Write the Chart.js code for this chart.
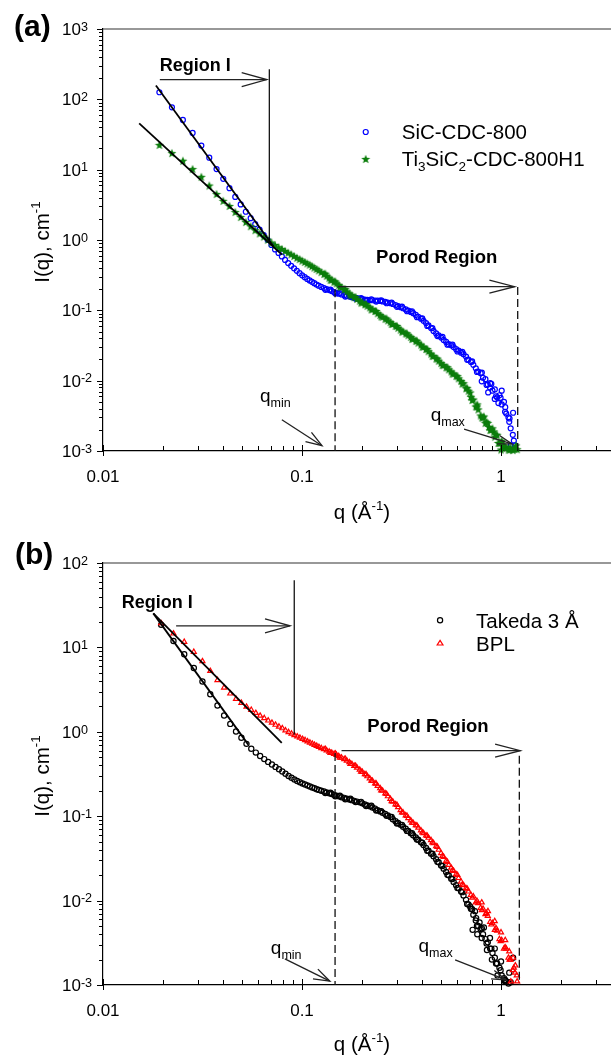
<!DOCTYPE html>
<html>
<head>
<meta charset="utf-8">
<script src="https://cdn.jsdelivr.net/npm/chart.js@4.4.1/dist/chart.umd.min.js"></script>
<style>
  html, body { margin: 0; padding: 0; background: #fff; }
  #wrap { position: relative; width: 611px; height: 1057px; overflow: hidden; background: #fff; }
  canvas { position: absolute; left: 0; }
  #chartA { top: 0; }
  #chartB { top: 530px; }
</style>
</head>
<body>
<div id="wrap">
  <canvas id="chartA" width="611" height="530"></canvas>
  <canvas id="chartB" width="611" height="527"></canvas>
</div>
<script>
const FONT = '"Liberation Sans", Arial, Helvetica, sans-serif';
const BLUE = "#0000ff";
const GREEN = "#0b7d0b";
const RED = "#ff0000";
const BLACK = "#000000";

// ---- panel (a): q grid and intensities ----
const qA = [
  0.0192, 0.0222, 0.0252, 0.0282, 0.0312, 0.0342, 0.0372, 0.0402, 0.0432, 0.0462,
  0.0492, 0.0522, 0.0552, 0.0582, 0.0612, 0.0642, 0.0672, 0.0702, 0.0732, 0.0762,
  0.0792, 0.0822, 0.0852, 0.0882, 0.0912, 0.0942, 0.0972, 0.1002, 0.1032, 0.1062,
  0.1092, 0.1122, 0.1152, 0.1182, 0.1212,
  0.125, 0.129, 0.133, 0.137, 0.141, 0.145, 0.149, 0.153, 0.158, 0.163,
  0.168, 0.173, 0.178, 0.183, 0.189, 0.195, 0.201, 0.207, 0.213, 0.219,
  0.226, 0.233, 0.240, 0.247, 0.254, 0.262, 0.270, 0.278, 0.286, 0.295,
  0.304, 0.313, 0.322, 0.332, 0.342, 0.352, 0.362, 0.373, 0.384, 0.396,
  0.408, 0.420, 0.432, 0.445, 0.458, 0.472, 0.486, 0.500, 0.515, 0.530,
  0.546, 0.562, 0.578, 0.595, 0.612, 0.630, 0.648, 0.667, 0.686, 0.706,
  0.726, 0.747, 0.768, 0.790, 0.812, 0.835, 0.858, 0.882, 0.906, 0.931,
  0.956, 0.982, 1.008, 1.035, 1.062, 1.090, 1.118, 1.146, 1.175, 1.205
];
const sicCdcI = [
  126, 77, 51, 33.3, 22, 14.8, 10.2, 7.4, 5.45, 4.1,
  3.2, 2.52, 2.04, 1.68, 1.40, 1.17, 1.00, 0.85, 0.735, 0.655,
  0.585, 0.52, 0.47, 0.43, 0.395, 0.365, 0.338, 0.315, 0.296, 0.28,
  0.266, 0.254, 0.243, 0.233, 0.224,
  0.215, 0.207, 0.200, 0.194, 0.188, 0.182, 0.177, 0.172, 0.168, 0.164,
  0.160, 0.157, 0.154, 0.151, 0.149, 0.146, 0.144, 0.142, 0.141, 0.140,
  0.139, 0.138, 0.137, 0.136, 0.134, 0.132, 0.129, 0.126, 0.123, 0.119,
  0.115, 0.111, 0.107, 0.103, 0.099, 0.095, 0.091, 0.086, 0.081, 0.076,
  0.071, 0.066, 0.061, 0.056, 0.051, 0.047, 0.044, 0.041, 0.038, 0.0355,
  0.033, 0.0318, 0.030, 0.028, 0.0268, 0.025, 0.0238, 0.022, 0.020, 0.0185,
  0.0168, 0.0150, 0.0135, 0.0128, 0.0110, 0.0105, 0.0088, 0.0092, 0.0072, 0.0075,
  0.0058, 0.0062, 0.0046, 0.0050, 0.0034, 0.0030, 0.0021, 0.0017, 0.0012, null
];
const tiCdcI = [
  22.5, 17.2, 13.4, 10.2, 7.9, 5.95, 4.5, 3.6, 3.05, 2.5,
  2.12, 1.80, 1.57, 1.38, 1.24, 1.12, 1.01, 0.92, 0.85, 0.79,
  0.745, 0.70, 0.66, 0.625, 0.592, 0.56, 0.535, 0.51, 0.487, 0.466,
  0.446, 0.425, 0.405, 0.387, 0.37,
  0.35, 0.33, 0.31, 0.29, 0.272, 0.256, 0.242, 0.229, 0.214, 0.199,
  0.186, 0.174, 0.163, 0.154, 0.145, 0.137, 0.129, 0.122, 0.116, 0.110,
  0.104, 0.098, 0.091, 0.086, 0.081, 0.076, 0.072, 0.068, 0.064, 0.060,
  0.0565, 0.053, 0.050, 0.047, 0.0443, 0.0418, 0.0394, 0.037, 0.0347, 0.0325,
  0.0303, 0.0282, 0.0262, 0.0242, 0.0224, 0.0207, 0.0192, 0.0178, 0.0166, 0.0155,
  0.0145, 0.0135, 0.0126, 0.0117, 0.0108, 0.0099, 0.0092, 0.0078, 0.0072, 0.0059,
  0.0054, 0.0043, 0.0039, 0.0032, 0.0030, 0.0025, 0.0025, 0.0020, 0.0021, 0.0016,
  0.0017, 0.0013, 0.0014, 0.00115, 0.0011, 0.00105, 0.00112, 0.00103, 0.00108, 0.00106
];
// in-between readings across the dense part of the curves (both panels share this q list)
const qMid = [
  0.131, 0.139, 0.147, 0.155, 0.165, 0.175, 0.186, 0.198, 0.210, 0.223,
  0.236, 0.250, 0.266, 0.282, 0.300, 0.318, 0.337, 0.357, 0.378, 0.402,
  0.426, 0.452, 0.479, 0.508, 0.538, 0.570, 0.604, 0.639, 0.676, 0.716,
  0.757, 0.801, 0.846, 0.894, 0.944, 0.995, 1.048, 1.104, 1.16
];
const sicMidI = [
  0.196, 0.197, 0.174, 0.176, 0.157, 0.160, 0.146, 0.149, 0.137, 0.143,
  0.133, 0.139, 0.126, 0.129, 0.112, 0.113, 0.097, 0.097, 0.080, 0.077,
  0.060, 0.056, 0.043, 0.042, 0.0325, 0.0325, 0.026, 0.0257, 0.0198, 0.0188,
  0.0133, 0.0130, 0.0087, 0.0090, 0.0060, 0.0057, 0.0036, 0.0029, 0.0014
];
const tiMidI = [
  0.332, 0.272, 0.258, 0.216, 0.200, 0.165, 0.155, 0.129, 0.123, 0.103,
  0.098, 0.082, 0.0765, 0.064, 0.060, 0.050, 0.047, 0.0394, 0.037, 0.0304,
  0.0281, 0.0226, 0.0206, 0.0167, 0.0155, 0.0126, 0.0116, 0.0091, 0.0079, 0.0053,
  0.0043, 0.0030, 0.0026, 0.0020, 0.0017, 0.0013, 0.00115, 0.00104, 0.00107
];
const sicNoiseQ = [0.80, 0.862, 0.93, 1.008, 1.05, 1.10, 1.15, 1.12, 0.97, 0.88];
const sicNoiseI = [0.0098, 0.0068, 0.0055, 0.0072, 0.0042, 0.0026, 0.0035, 0.0012, 0.0048, 0.0080];
const tiNoiseQ = [0.70, 0.76, 0.82, 0.87, 0.92, 0.97, 1.0, 1.03, 1.1, 1.19];
const tiNoiseI = [0.0068, 0.0046, 0.0031, 0.0022, 0.0019, 0.0013, 0.00105, 0.0012, 0.0011, 0.0012];

// ---- panel (b): q grid and intensities ----
const qB = [
  0.0196, 0.0226, 0.0256, 0.0286, 0.0316, 0.0346, 0.0376, 0.0406, 0.0436, 0.0466,
  0.0496, 0.0526, 0.0556, 0.0586, 0.0616, 0.0646, 0.0676, 0.0706, 0.0736, 0.0766,
  0.0796, 0.0826, 0.0856, 0.0886, 0.0916, 0.0946, 0.0976, 0.1006, 0.1036, 0.1066,
  0.1096, 0.1126, 0.1156, 0.1186, 0.1216,
  0.125, 0.129, 0.133, 0.137, 0.141, 0.145, 0.149, 0.153, 0.158, 0.163,
  0.168, 0.173, 0.178, 0.183, 0.189, 0.195, 0.201, 0.207, 0.213, 0.219,
  0.226, 0.233, 0.240, 0.247, 0.254, 0.262, 0.270, 0.278, 0.286, 0.295,
  0.304, 0.313, 0.322, 0.332, 0.342, 0.352, 0.362, 0.373, 0.384, 0.396,
  0.408, 0.420, 0.432, 0.445, 0.458, 0.472, 0.486, 0.500, 0.515, 0.530,
  0.546, 0.562, 0.578, 0.595, 0.612, 0.630, 0.648, 0.667, 0.686, 0.706,
  0.726, 0.747, 0.768, 0.790, 0.812, 0.835, 0.858, 0.882, 0.906, 0.931,
  0.956, 0.982, 1.008, 1.035, 1.062, 1.090, 1.118, 1.146, 1.175, 1.205
];
const takedaI = [
  18.5, 11.9, 8.3, 5.7, 3.95, 2.78, 2.05, 1.56, 1.24, 1.01,
  0.85, 0.72, 0.63, 0.567, 0.516, 0.475, 0.44, 0.41, 0.384, 0.36,
  0.338, 0.318, 0.30, 0.285, 0.272, 0.261, 0.252, 0.244, 0.237, 0.231,
  0.225, 0.219, 0.214, 0.209, 0.205,
  0.200, 0.196, 0.191, 0.187, 0.183, 0.179, 0.175, 0.172, 0.168, 0.165,
  0.161, 0.158, 0.155, 0.152, 0.149, 0.146, 0.142, 0.138, 0.134, 0.131,
  0.127, 0.123, 0.118, 0.114, 0.110, 0.106, 0.102, 0.098, 0.092, 0.087,
  0.083, 0.079, 0.075, 0.071, 0.067, 0.063, 0.0595, 0.056, 0.0525, 0.049,
  0.0455, 0.042, 0.039, 0.036, 0.0335, 0.031, 0.0285, 0.026, 0.0238, 0.0218,
  0.020, 0.0182, 0.0166, 0.0152, 0.0141, 0.0128, 0.0115, 0.0102, 0.0090, 0.0080,
  0.0068, 0.0058, 0.0050, 0.0046, 0.0040, 0.0035, 0.0032, 0.0027, 0.0024, 0.0021,
  0.0018, 0.0016, 0.0013, 0.0012, 0.0011, 0.00104, 0.00108, null, null, null
];
const bplI = [
  19.3, 14.6, 11.6, 8.85, 6.85, 5.25, 4.1, 3.34, 2.84, 2.45,
  2.2, 1.98, 1.82, 1.67, 1.55, 1.45, 1.36, 1.28, 1.21, 1.15,
  1.10, 1.04, 0.99, 0.95, 0.91, 0.88, 0.85, 0.82, 0.795, 0.77,
  0.745, 0.722, 0.70, 0.68, 0.66,
  0.64, 0.62, 0.60, 0.582, 0.565, 0.548, 0.532, 0.515, 0.495, 0.475,
  0.455, 0.435, 0.415, 0.395, 0.375, 0.355, 0.335, 0.315, 0.297, 0.280,
  0.262, 0.245, 0.229, 0.214, 0.200, 0.186, 0.172, 0.160, 0.149, 0.138,
  0.128, 0.118, 0.110, 0.102, 0.095, 0.089, 0.083, 0.078, 0.073, 0.068,
  0.063, 0.059, 0.0555, 0.052, 0.048, 0.044, 0.040, 0.0365, 0.033, 0.0295,
  0.0265, 0.0245, 0.0225, 0.0205, 0.0185, 0.0168, 0.0152, 0.014, 0.0128, 0.0117,
  0.0112, 0.0095, 0.0093, 0.0082, 0.0080, 0.0069, 0.0066, 0.0056, 0.0054, 0.0045,
  0.0044, 0.0035, 0.0034, 0.0027, 0.0027, 0.0021, 0.0020, 0.0015, 0.0014, 0.0011
];
const takedaMidI = [
  0.188, 0.190, 0.172, 0.175, 0.159, 0.161, 0.147, 0.148, 0.132, 0.133,
  0.117, 0.115, 0.101, 0.098, 0.082, 0.079, 0.067, 0.063, 0.053, 0.0485,
  0.039, 0.036, 0.0288, 0.0257, 0.0202, 0.0180, 0.0141, 0.0126, 0.0091, 0.0079,
  0.0050, 0.0047, 0.0031, 0.0027, 0.0018, 0.0015, 0.0011, 0.00108, null
];
const bplMidI = [
  0.625, 0.56, 0.553, 0.495, 0.478, 0.417, 0.394, 0.337, 0.313, 0.263,
  0.243, 0.202, 0.183, 0.151, 0.136, 0.111, 0.101, 0.084, 0.0775, 0.064,
  0.0585, 0.0488, 0.0432, 0.0338, 0.0288, 0.0229, 0.0201, 0.0155, 0.0138, 0.0108,
  0.0099, 0.0077, 0.0071, 0.0052, 0.0047, 0.0033, 0.0028, 0.0020, 0.0016
];
const takedaNoiseQ = [0.70, 0.72, 0.74, 0.75, 0.76, 0.78, 0.80, 0.82, 0.85, 0.88, 0.90, 0.93, 0.96, 1.0, 1.05, 1.1, 1.15];
const takedaNoiseI = [0.0085, 0.0045, 0.0075, 0.0062, 0.0040, 0.0055, 0.0036, 0.0048, 0.0026, 0.0036, 0.0020, 0.0027, 0.0013, 0.0019, 0.00115, 0.0014, 0.0021];
const bplNoiseQ = [0.80, 0.86, 0.93, 1.0, 1.05, 1.1, 1.15, 1.18, 1.2, 1.12];
const bplNoiseI = [0.0095, 0.0075, 0.0057, 0.0042, 0.0034, 0.0025, 0.0021, 0.0017, 0.0013, 0.0011];

// ---- axes ----
const xTicks = [
  0.01, 0.02, 0.03, 0.04, 0.05, 0.06, 0.07, 0.08, 0.09,
  0.1, 0.2, 0.3, 0.4, 0.5, 0.6, 0.7, 0.8, 0.9,
  1, 2, 3
];
const xTickLabels = { 0.01: "0.01", 0.1: "0.1", 1: "1" };
const yExponentsA = [-3, -2, -1, 0, 1, 2, 3];
const yExponentsB = [-3, -2, -1, 0, 1, 2];

// ---- annotation geometry, in data units (q, I) ----
const fitSicA = [[0.01845, 157], [0.0718, 0.817]];
const fitTiA = [[0.0152, 45.4], [0.0792, 0.62]];
const regionLineA = [[0.0685, 268], [0.0685, 0.95]];
const qminLineA = [[0.1466, 0.2], [0.1466, 0.001]];
const qmaxLineA = [[1.213, 0.215], [1.213, 0.001]];
const fitBplB = [[0.0179, 25.3], [0.0791, 0.738]];
const fitTakedaB = [[0.0179, 25.3], [0.0537, 0.705]];
const regionLineB = [[0.0914, 62.5], [0.0914, 0.925]];
const qminLineB = [[0.1466, 0.56], [0.1466, 0.001]];
const qmaxLineB = [[1.236, 0.52], [1.236, 0.001]];

function pts(q, I) {
  const out = [];
  q.forEach((x, i) => { if (I[i] != null) out.push({ x, y: I[i] }); });
  return out;
}

function starImage(color) {
  const c = document.createElement("canvas");
  c.width = 10; c.height = 10;
  const g = c.getContext("2d");
  g.fillStyle = color;
  g.beginPath();
  for (let i = 0; i < 10; i++) {
    const r = i % 2 ? 2.0 : 4.7;
    const a = -Math.PI / 2 + i * Math.PI / 5;
    const x = 5 + r * Math.cos(a), y = 5.4 + r * Math.sin(a);
    if (i) g.lineTo(x, y); else g.moveTo(x, y);
  }
  g.closePath();
  g.fill();
  return c;
}

const STYLES = {
  sic: { pointStyle: "circle", pointRadius: 2.5, pointBorderWidth: 1.2, pointBorderColor: BLUE, pointBackgroundColor: "rgba(0,0,0,0)" },
  ti: { pointStyle: starImage(GREEN), pointRadius: 4, pointBorderWidth: 0, pointBorderColor: GREEN, pointBackgroundColor: GREEN },
  takeda: { pointStyle: "circle", pointRadius: 2.6, pointBorderWidth: 1.2, pointBorderColor: BLACK, pointBackgroundColor: "rgba(0,0,0,0)" },
  bpl: { pointStyle: "triangle", pointRadius: 2.9, pointBorderWidth: 1.2, pointBorderColor: RED, pointBackgroundColor: "rgba(0,0,0,0)" },
};

function scatterSet(label, data, style, order) {
  return { label, data, showLine: false, order, clip: 6, ...style };
}

function lineSet(points, extra) {
  return {
    data: points.map(([x, y]) => ({ x, y })),
    showLine: true,
    pointRadius: 0,
    borderColor: "#000",
    borderWidth: 1.8,
    order: 0,
    clip: 2,
    ...extra,
  };
}

// rich text: parts = [[text, mode]] with mode "", "sup" or "sub"
function richWidth(ctx, parts, size, weight, scale) {
  let w = 0;
  for (const [t, m] of parts) {
    ctx.font = `${weight} ${m ? size * scale : size}px ${FONT}`;
    w += ctx.measureText(t).width;
  }
  return w;
}

function drawRich(ctx, parts, x, y, size, opt = {}) {
  const weight = opt.weight || "normal";
  const scale = opt.scale || 0.65;
  const rise = opt.rise != null ? opt.rise : 0.38;
  const drop = opt.drop != null ? opt.drop : 0.22;
  const w = richWidth(ctx, parts, size, weight, scale);
  let cx = opt.align === "center" ? x - w / 2 : x;
  ctx.textAlign = "left";
  ctx.textBaseline = "alphabetic";
  for (const [t, m] of parts) {
    ctx.font = `${weight} ${m ? size * scale : size}px ${FONT}`;
    const dy = m === "sup" ? -size * rise : m === "sub" ? size * drop : 0;
    ctx.fillText(t, cx, y + dy);
    cx += ctx.measureText(t).width;
  }
}

function arrow(ctx, x1, y1, x2, y2, head, spread) {
  ctx.beginPath();
  ctx.moveTo(x1, y1);
  ctx.lineTo(x2, y2);
  ctx.stroke();
  const ang = Math.atan2(y2 - y1, x2 - x1);
  ctx.beginPath();
  ctx.moveTo(x2 - head * Math.cos(ang - spread), y2 - head * Math.sin(ang - spread));
  ctx.lineTo(x2, y2);
  ctx.lineTo(x2 - head * Math.cos(ang + spread), y2 - head * Math.sin(ang + spread));
  ctx.stroke();
}

function legendMarker(ctx, style, x, y) {
  if (style.pointStyle instanceof HTMLCanvasElement) {
    ctx.drawImage(style.pointStyle, x - style.pointStyle.width / 2, y - style.pointStyle.height / 2);
    return;
  }
  ctx.strokeStyle = style.pointBorderColor;
  ctx.lineWidth = style.pointBorderWidth;
  ctx.beginPath();
  const r = style.pointRadius;
  if (style.pointStyle === "triangle") {
    ctx.moveTo(x, y - r);
    ctx.lineTo(x + r, y + r * 0.6);
    ctx.lineTo(x - r, y + r * 0.6);
    ctx.closePath();
  } else {
    ctx.arc(x, y, r, 0, Math.PI * 2);
  }
  ctx.stroke();
}

function panelDecor(cfg) {
  return {
    id: "panelDecor",
    afterDraw(chart) {
      const { ctx, chartArea: a } = chart;
      const xs = chart.scales.x, ys = chart.scales.y;
      const px = (q) => xs.getPixelForValue(q);
      const py = (v) => ys.getPixelForValue(v);
      ctx.save();
      ctx.fillStyle = "#000";

      // top frame line
      ctx.lineWidth = 1.2;
      ctx.strokeStyle = "#333";
      ctx.beginPath();
      ctx.moveTo(a.left, a.top);
      ctx.lineTo(a.right, a.top);
      ctx.stroke();

      // x tick marks
      ctx.strokeStyle = "#000";
      ctx.lineWidth = 1;
      for (const t of xs.ticks) {
        const x = Math.round(px(t.value)) + 0.5;
        const major = xTickLabels[t.value] !== undefined;
        ctx.beginPath();
        ctx.moveTo(x, a.bottom - (major ? 6 : 5));
        ctx.lineTo(x, a.bottom + (major ? 5 : 0));
        ctx.stroke();
      }
      // y tick marks
      for (const t of ys.ticks) {
        const y = Math.round(py(t.value)) + 0.5;
        const lg = Math.log10(t.value);
        const major = Math.abs(lg - Math.round(lg)) < 1e-6;
        ctx.beginPath();
        ctx.moveTo(a.left - (major ? 6 : 4), y);
        ctx.lineTo(a.left, y);
        ctx.stroke();
      }
      // y tick labels 10^n
      ctx.fillStyle = "#000";
      for (const e of cfg.yExponents) {
        const y = py(Math.pow(10, e));
        drawRich(ctx, [["10", ""], [String(e), "sup"]], 62, y + 6, 17, { scale: 0.74, rise: 0.25 });
      }

      // axis titles
      drawRich(ctx, [["q (\u00c5", ""], ["-1", "sup"], [")", ""]], 362, cfg.xTitleY, 20.5, { align: "center", rise: 0.4 });
      ctx.save();
      ctx.translate(48.5, (a.top + a.bottom) / 2 + 2);
      ctx.rotate(-Math.PI / 2);
      drawRich(ctx, [["I(q), cm", ""], ["-1", "sup"]], 0, 0, 20.5, { align: "center", rise: 0.4 });
      ctx.restore();

      // panel tag
      ctx.font = `bold 30px ${FONT}`;
      ctx.textAlign = "left";
      ctx.textBaseline = "alphabetic";
      ctx.fillText(cfg.tag, cfg.tagX, cfg.tagY);

      // arrows
      ctx.strokeStyle = "#222";
      ctx.lineWidth = 1.3;
      for (const ar of cfg.arrows) {
        arrow(ctx, px(ar.from[0]), py(ar.from[1]), px(ar.to[0]), py(ar.to[1]), ar.head, ar.spread);
      }

      // texts
      ctx.fillStyle = "#000";
      for (const tx of cfg.texts) {
        drawRich(ctx, tx.parts, px(tx.at[0]), py(tx.at[1]), tx.size, tx.opt || {});
      }

      // legend
      for (const lg of cfg.legend) {
        const x = px(lg.at[0]), y = py(lg.at[1]);
        legendMarker(ctx, lg.style, x, y);
        ctx.fillStyle = "#000";
        drawRich(ctx, lg.parts, x + 36, y + 7.4, 20.5, { scale: 0.66, drop: 0.24 });
      }
      ctx.restore();
    },
  };
}

function xAxis(height) {
  return {
    type: "logarithmic",
    min: 0.01,
    max: 3.57,
    afterBuildTicks: (s) => { s.ticks = xTicks.map((v) => ({ value: v })); },
    afterFit: (s) => { s.height = height; s.paddingLeft = 0; s.paddingRight = 0; },
    grid: { display: false, drawTicks: false },
    border: { display: true, color: "#000", width: 1.2 },
    ticks: {
      autoSkip: false,
      maxRotation: 0,
      padding: 16,
      color: "#000",
      font: { family: FONT, size: 17 },
      callback: (v) => (xTickLabels[v] !== undefined ? xTickLabels[v] : ""),
    },
  };
}

function yAxis(exps) {
  const lo = exps[0], hi = exps[exps.length - 1];
  const vals = [];
  for (let e = lo; e < hi; e++) {
    for (let m = 1; m <= 9; m++) vals.push(Number((m * Math.pow(10, e)).toPrecision(6)));
  }
  vals.push(Math.pow(10, hi));
  return {
    type: "logarithmic",
    min: Math.pow(10, lo),
    max: Math.pow(10, hi),
    afterBuildTicks: (s) => { s.ticks = vals.map((v) => ({ value: v })); },
    afterFit: (s) => { s.width = 103; s.paddingTop = 0; s.paddingBottom = 0; },
    grid: { display: false, drawTicks: false },
    border: { display: true, color: "#000", width: 1.2 },
    ticks: { display: false },
  };
}

function makeChart(canvas, datasets, exps, top, xHeight, decor) {
  return new Chart(canvas, {
    type: "scatter",
    data: { datasets },
    options: {
      responsive: false,
      animation: false,
      devicePixelRatio: 1,
      events: [],
      layout: { autoPadding: false, padding: { top, left: 0, right: 0, bottom: 0 } },
      plugins: { legend: { display: false }, tooltip: { enabled: false } },
      scales: { x: xAxis(xHeight), y: yAxis(exps) },
    },
    plugins: [panelDecor(decor)],
  });
}

const dashed = { borderDash: [8, 4], borderWidth: 1.3, borderColor: "#111" };
const thin = { borderWidth: 1.2 };

makeChart(
  document.getElementById("chartA"),
  [
    lineSet(fitSicA), lineSet(fitTiA), lineSet(regionLineA, thin),
    lineSet(qminLineA, dashed), lineSet(qmaxLineA, dashed),
    scatterSet("Ti3SiC2-CDC-800H1", pts(qA, tiCdcI), STYLES.ti, 1),
    scatterSet("", pts(qMid, tiMidI), STYLES.ti, 1),
    scatterSet("", pts(tiNoiseQ, tiNoiseI), STYLES.ti, 1),
    scatterSet("SiC-CDC-800", pts(qA, sicCdcI), STYLES.sic, 2),
    scatterSet("", pts(qMid, sicMidI), STYLES.sic, 2),
    scatterSet("", pts(sicNoiseQ, sicNoiseI), STYLES.sic, 2),
  ],
  yExponentsA, 29, 79,
  {
    tag: "(a)", tagX: 14, tagY: 36, xTitleY: 518.5,
    yExponents: yExponentsA,
    arrows: [
      { from: [0.0193, 191], to: [0.0665, 191], head: 26, spread: 0.27 },
      { from: [0.152, 0.217], to: [1.17, 0.217], head: 26, spread: 0.25 },
      { from: [0.0792, 0.00278], to: [0.126, 0.00119], head: 17, spread: 0.33 },
      { from: [0.652, 0.00205], to: [1.135, 0.00126], head: 15, spread: 0.3 },
    ],
    texts: [
      { parts: [["Region I", ""]], at: [0.0193, 254], size: 18, opt: { weight: "bold" } },
      { parts: [["Porod Region", ""]], at: [0.2355, 0.475], size: 18.5, opt: { weight: "bold" } },
      { parts: [["q", ""], ["min", "sub"]], at: [0.0615, 0.00495], size: 19, opt: { scale: 0.66, drop: 0.25 } },
      { parts: [["q", ""], ["max", "sub"]], at: [0.443, 0.00269], size: 19, opt: { scale: 0.66, drop: 0.25 } },
    ],
    legend: [
      { at: [0.209, 34.3], style: STYLES.sic, parts: [["SiC-CDC-800", ""]] },
      { at: [0.209, 14.2], style: STYLES.ti, parts: [["Ti", ""], ["3", "sub"], ["SiC", ""], ["2", "sub"], ["-CDC-800H1", ""]] },
    ],
  }
);

makeChart(
  document.getElementById("chartB"),
  [
    lineSet(fitBplB), lineSet(fitTakedaB), lineSet(regionLineB, thin),
    lineSet(qminLineB, dashed), lineSet(qmaxLineB, dashed),
    scatterSet("BPL", pts(qB, bplI), STYLES.bpl, 1),
    scatterSet("", pts(qMid, bplMidI), STYLES.bpl, 1),
    scatterSet("", pts(bplNoiseQ, bplNoiseI), STYLES.bpl, 1),
    scatterSet("Takeda 3 \u00c5", pts(qB, takedaI), STYLES.takeda, 2),
    scatterSet("", pts(qMid, takedaMidI), STYLES.takeda, 2),
    scatterSet("", pts(takedaNoiseQ, takedaNoiseI), STYLES.takeda, 2),
  ],
  yExponentsB, 33, 72,
  {
    tag: "(b)", tagX: 15, tagY: 34, xTitleY: 520.6,
    yExponents: yExponentsB,
    arrows: [
      { from: [0.0233, 18.0], to: [0.0871, 18.0], head: 26, spread: 0.27 },
      { from: [0.158, 0.598], to: [1.25, 0.598], head: 26, spread: 0.25 },
      { from: [0.082, 0.00204], to: [0.138, 0.00111], head: 17, spread: 0.33 },
      { from: [0.588, 0.00198], to: [1.06, 0.00115], head: 15, spread: 0.3 },
    ],
    texts: [
      { parts: [["Region I", ""]], at: [0.01242, 29.0], size: 18, opt: { weight: "bold" } },
      { parts: [["Porod Region", ""]], at: [0.213, 0.984], size: 18.5, opt: { weight: "bold" } },
      { parts: [["q", ""], ["min", "sub"]], at: [0.0697, 0.00233], size: 19, opt: { scale: 0.66, drop: 0.25 } },
      { parts: [["q", ""], ["max", "sub"]], at: [0.385, 0.00247], size: 19, opt: { scale: 0.66, drop: 0.25 } },
    ],
    legend: [
      { at: [0.494, 21.0], style: STYLES.takeda, parts: [["Takeda 3 \u00c5", ""]] },
      { at: [0.494, 11.2], style: STYLES.bpl, parts: [["BPL", ""]] },
    ],
  }
);
</script>
</body>
</html>
